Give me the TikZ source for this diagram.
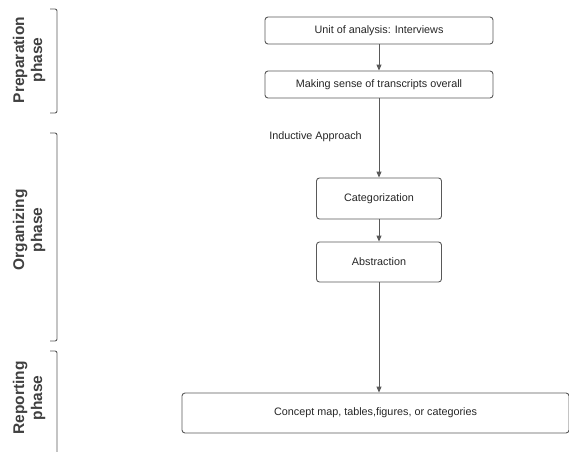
\documentclass[tikz,border=0pt]{standalone}
\usepackage{fontspec}
\setmainfont{Liberation Sans}
\usetikzlibrary{arrows.meta}
\begin{document}
\begin{tikzpicture}[x=1pt,y=-1pt,
  box/.style={draw=black!65,line width=0.9pt,rounded corners=3pt,fill=white,inner sep=0pt,font=\fontsize{10.8}{13}\selectfont,text=black!85},
  conn/.style={draw=black!65,line width=0.9pt,-{Triangle[length=6pt,width=5pt]}},
  brk/.style={draw=black!65,line width=0.9pt,rounded corners=2pt},
  phase/.style={font=\bfseries\fontsize{15.5}{18}\selectfont,text=black!75,rotate=90,align=center}]
\useasboundingbox (0,0) rectangle (569,451);
\node[box,minimum width=228pt,minimum height=27pt] (b1) at (379,30.5) {Unit of analysis: Interviews};
\node[box,minimum width=228pt,minimum height=27pt] (b2) at (379,84.5) {Making sense of transcripts overall};
\node[box,minimum width=125pt,minimum height=41pt] (b3) at (379,198.5) {Categorization};
\node[box,minimum width=125pt,minimum height=40pt] (b4) at (379,262) {Abstraction};
\node[box,minimum width=387pt,minimum height=40pt] (b5) at (375.5,413) {Concept map, tables,figures, or categories};
\node[font=\fontsize{10.8}{13}\selectfont,text=black!85] (ind) at (315.5,137) {Inductive Approach};
\draw[conn] (b1) -- (b2);
\draw[conn] (b2.south) -- (b3.north);
\draw[conn] (b3) -- (b4);
\draw[conn] (b4.south) -- (b4.south |- b5.north);
% brackets
\coordinate (p1) at (50,9); \coordinate (p2) at (50,113);
\draw[brk] (p1) -| (57,61) |- (p2);
\coordinate (o1) at (50,133); \coordinate (o2) at (50,341);
\draw[brk] (o1) -| (57,237) |- (o2);
\coordinate (r1) at (50,351); \coordinate (r2) at (57,455);
\draw[brk] (r1) -| (r2);
\node[phase] (lp) at (29,60) {Preparation\\phase};
\node[phase] (lo) at (29,230) {Organizing\\phase};
\node[phase] (lr) at (29,398) {Reporting\\phase};
\end{tikzpicture}
\end{document}
